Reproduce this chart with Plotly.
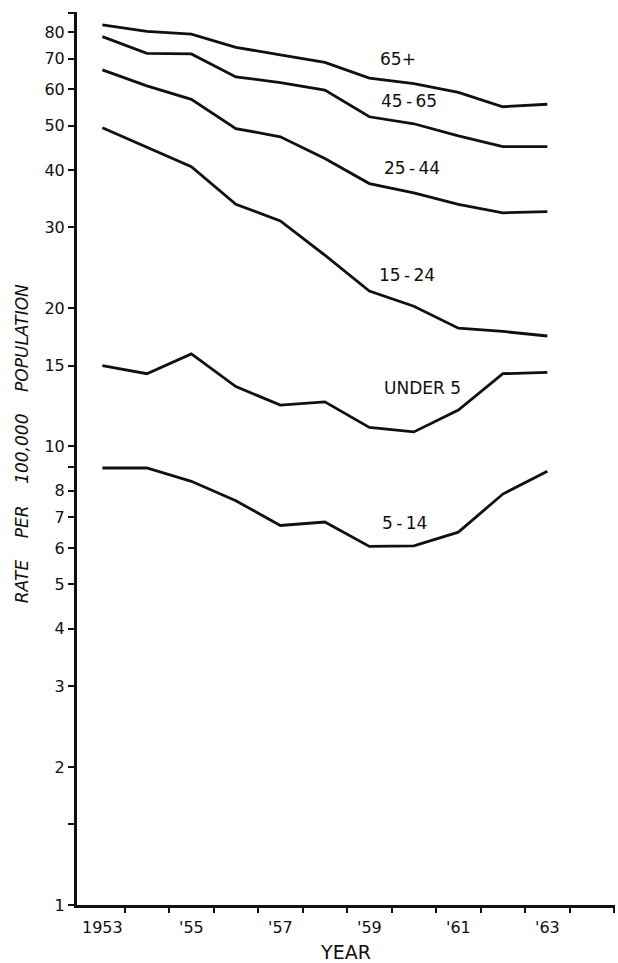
import math
import plotly.graph_objects as go

years = list(range(1953, 1964))

rate_65_plus = [83.0, 80.3, 79.2, 74.1, 71.4, 68.7, 63.5, 61.8, 59.1, 55.0, 55.7]
rate_45_65 = [78.2, 71.9, 71.7, 63.9, 62.1, 59.8, 52.3, 50.5, 47.5, 45.0, 45.0]
rate_25_44 = [66.2, 61.1, 57.1, 49.3, 47.3, 42.4, 37.4, 35.7, 33.7, 32.3, 32.5]
rate_15_24 = [49.5, 44.8, 40.7, 33.7, 31.0, 26.1, 21.8, 20.2, 18.1, 17.8, 17.4]
rate_under_5 = [15.0, 14.4, 15.9, 13.5, 12.3, 12.5, 11.0, 10.75, 12.0, 14.4, 14.5]
rate_5_14 = [8.97, 8.97, 8.39, 7.61, 6.72, 6.84, 6.05, 6.07, 6.50, 7.87, 8.82]

series_names = ["65+", "45-65", "25-44", "15-24", "UNDER 5", "5-14"]
series_values = [rate_65_plus, rate_45_65, rate_25_44, rate_15_24, rate_under_5, rate_5_14]

# label anchor positions (year, rate)
label_years = [1959.65, 1959.9, 1959.95, 1959.85, 1960.2, 1959.8]
label_rates = [70.0, 56.7, 40.5, 23.6, 13.4, 6.82]

y_tick_vals = [1, 1.5, 2, 3, 4, 5, 6, 7, 8, 9, 10, 15, 20, 30, 40, 50, 60, 70, 80, 88]
y_tick_text = ["1", "", "2", "3", "4", "5", "6", "7", "8", "", "10", "15", "20",
               "30", "40", "50", "60", "70", "80", ""]

x_label_vals = [1953, 1955, 1957, 1959, 1961, 1963]
x_label_text = ["1953", "'55", "'57", "'59", "'61", "'63"]
x_minor_vals = [y + 0.5 for y in range(1953, 1965)]

FONT = "DejaVu Sans"
INK = "#101010"

fig = go.Figure()
for name, vals in zip(series_names, series_values):
    fig.add_trace(go.Scatter(
        x=years, y=vals, mode="lines", name=name,
        line=dict(color=INK, width=2.8),
        showlegend=False, hoverinfo="skip",
    ))

for name, lx, ly in zip(series_names, label_years, label_rates):
    fig.add_annotation(
        x=lx, y=math.log10(ly), xref="x", yref="y",
        text=name.replace("-", "\u2009-\u2009"), showarrow=False,
        font=dict(family=FONT, size=17, color=INK),
    )

sp = "\u00a0" * 4
fig.add_annotation(
    x=0, xref="paper", xanchor="center", xshift=-55,
    y=0.516, yref="paper", yanchor="middle",
    text="RATE" + sp + "PER" + sp + "100,000" + sp + "POPULATION",
    textangle=-90, showarrow=False,
    font=dict(family=FONT, size=17, color=INK, style="italic"),
)

fig.update_layout(
    width=618, height=963,
    margin=dict(l=77, r=3, t=12, b=58),
    paper_bgcolor="white", plot_bgcolor="white",
    font=dict(family=FONT, color=INK),
)

fig.update_xaxes(
    range=[1952.43, 1964.52],
    showgrid=False, zeroline=False,
    showline=True, linecolor=INK, linewidth=2.5,
    tickmode="array", tickvals=x_label_vals, ticktext=x_label_text,
    ticks="", ticklabelstandoff=6,
    tickfont=dict(family=FONT, size=16, color=INK),
    minor=dict(tickmode="array", tickvals=x_minor_vals, ticks="outside",
               ticklen=5, tickwidth=1.5, tickcolor=INK, showgrid=False),
    title=dict(text="YEAR", font=dict(family=FONT, size=19, color=INK), standoff=10),
)

fig.update_yaxes(
    type="log", range=[0, math.log10(88.5)],
    showgrid=False, zeroline=False,
    showline=True, linecolor=INK, linewidth=3,
    tickmode="array", tickvals=y_tick_vals, ticktext=y_tick_text,
    ticks="outside", ticklen=6, tickwidth=1.5, tickcolor=INK,
    tickfont=dict(family=FONT, size=16, color=INK),
)

fig.write_html("out.html")
